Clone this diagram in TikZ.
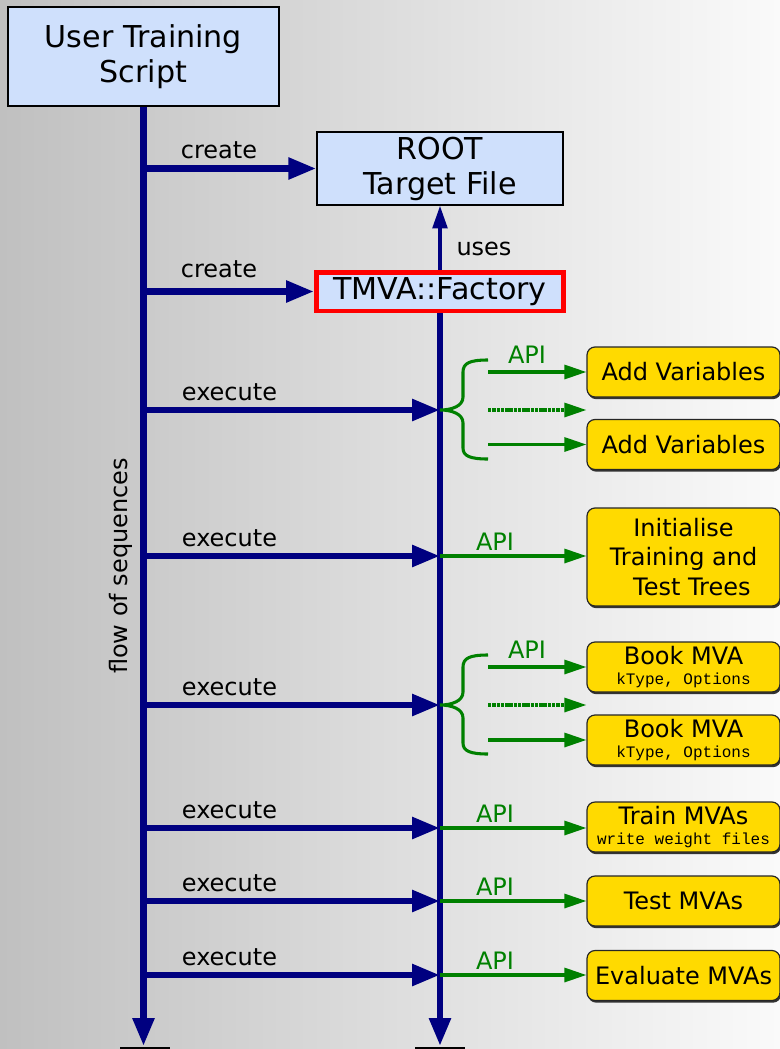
\documentclass[tikz,border=0pt]{standalone}
\usepackage{fontspec}
\setmainfont{DejaVu Sans}
\setmonofont{Liberation Mono}
\usetikzlibrary{arrows.meta,shadows}

\definecolor{seqnavy}{RGB}{0,0,128}
\definecolor{apigreen}{RGB}{0,128,0}
\definecolor{boxblue}{RGB}{207,224,252}
\definecolor{boxgold}{RGB}{255,218,0}
\definecolor{bgleft}{RGB}{192,192,192}
\definecolor{bgright}{RGB}{250,250,250}

\newcommand{\monotext}[1]{{\ttfamily\fontsize{12pt}{12pt}\selectfont #1}}

\tikzset{
  bluebox/.style={draw=black,line width=1.1pt,fill=boxblue,inner sep=0pt,align=center,
    font=\fontsize{22.6pt}{26.25pt}\selectfont},
  goldbox/.style={draw=black!85,line width=0.9pt,fill=boxgold,rounded corners=6pt,
    inner sep=0pt,align=center,minimum width=144.75pt,minimum height=37.5pt,
    font=\fontsize{18pt}{22.1pt}\selectfont,
    drop shadow={shadow xshift=0.8pt,shadow yshift=-1.6pt,fill=black!80,opacity=1}},
  flowarrow/.style={draw=seqnavy,line width=4.9pt,-{Triangle[length=21pt,width=15.5pt]}},
  usesarrow/.style={draw=seqnavy,line width=2.6pt,-{Triangle[length=17pt,width=11pt]}},
  apiarrow/.style={draw=apigreen,line width=2.3pt,-{Triangle[length=16.5pt,width=10.5pt]}},
  apidots/.style={apiarrow,dash pattern=on 2.6pt off 0.6pt},
  bracepath/.style={draw=apigreen,line width=2.3pt},
  verb/.style={anchor=base,inner sep=0pt,font=\fontsize{18pt}{20pt}\selectfont},
  apilabel/.style={verb,text=apigreen}
}

\begin{document}
\begin{tikzpicture}[x=0.75pt,y=-0.75pt]
  % page frame and grey gradient backdrop
  \useasboundingbox (0,0) rectangle (780,1049);
  \clip (0,0) rectangle (780,1049);
  \fill[left color=bgleft,right color=bgright] (0,0) rectangle (780,1049);

  % main boxes
  \node[bluebox,minimum width=203.25pt,minimum height=74.25pt] (uts) at (143.5,56.5)
    {User Training\\Script};
  \node[bluebox,minimum width=184.5pt,minimum height=54.75pt] (root) at (440,168.5)
    {ROOT\\Target File};
  \node[bluebox,draw=red,line width=3.4pt,minimum width=185.6pt,minimum height=28.9pt]
    (tmva) at (440,291.5) {TMVA::Factory};

  % action boxes
  \node[goldbox] (av1) at (683.5,372) {Add Variables};
  \node[goldbox] (av2) at (683.5,444.5) {Add Variables};
  \node[goldbox,minimum height=73.5pt] (init) at (683.5,557)
    {Initialise\\Training and\\\hspace*{0.7em}Test Trees};
  \node[goldbox] (bm1) at (683.5,667) {Book MVA\\[-7.2pt]\monotext{kType, Options}};
  \node[goldbox] (bm2) at (683.5,740) {Book MVA\\[-7.2pt]\monotext{kType, Options}};
  \node[goldbox] (train) at (683.5,827) {Train MVAs\\[-7.75pt]\monotext{write weight files}};
  \node[goldbox] (test) at (683.5,901) {Test MVAs};
  \node[goldbox] (eval) at (683.5,975.5) {Evaluate MVAs};

  % sequence lines
  \coordinate (lend) at (143.5,1046);
  \coordinate (rend) at (440,1046);
  \draw[flowarrow] (uts.south) -- (lend);
  \draw[flowarrow] (tmva.south) -- (rend);
  \fill[black] (120,1046.5) rectangle (170,1052);
  \fill[black] (415,1046.5) rectangle (465,1052);
  \node[verb,anchor=center,rotate=90] (flow) at (121,566) {flow of sequences};

  % creation and use
  \draw[flowarrow] (uts.south |- root.west) -- (root.west);
  \draw[flowarrow] (uts.south |- tmva.west) -- (tmva.west);
  \node[verb] (create1) at (219,158) {create};
  \node[verb] (create2) at (219,277.5) {create};
  \draw[usesarrow] (tmva.north) -- (root.south);
  \node[verb] (uses) at (484,255) {uses};

  % execute calls
  \foreach \y [count=\i] in {410,556,705,828,901,975} {
    \coordinate (xs\i) at (143.5,\y);
    \coordinate (xe\i) at (440,\y);
    \draw[flowarrow] (xs\i) -- (xe\i);
    \node[verb] (exec\i) at (229.5,\y-10) {execute};
  }

  % single API calls
  \draw[apiarrow] (xe2) -- (xe2 -| init.west);
  \draw[apiarrow] (xe4) -- (xe4 -| train.west);
  \draw[apiarrow] (xe5) -- (xe5 -| test.west);
  \draw[apiarrow] (xe6) -- (xe6 -| eval.west);
  \node[apilabel] (api2) at (495,550) {API};
  \node[apilabel] (api4) at (495,822) {API};
  \node[apilabel] (api5) at (495,895) {API};
  \node[apilabel] (api6) at (495,969) {API};

  % grouped API calls with braces
  \foreach \t/\g in {410/1,705/2} {
    \draw[bracepath] (488,\t-50) .. controls (470,\t-50) and (463,\t-47) .. (463,\t-38)
      -- (463,\t-13) .. controls (463,\t-4) and (452,\t) .. (440,\t)
      .. controls (452,\t) and (463,\t+4) .. (463,\t+13)
      -- (463,\t+38) .. controls (463,\t+46) and (470,\t+49) .. (488,\t+49);
    \coordinate (g\g) at (488,\t);
  }
  \draw[apiarrow] (g1 |- av1.west) -- (av1.west);
  \draw[apidots] (g1) -- (g1 -| av1.west);
  \draw[apiarrow] (g1 |- av2.west) -- (av2.west);
  \node[apilabel] (api1) at (527,363) {API};

  \draw[apiarrow] (g2 |- bm1.west) -- (bm1.west);
  \draw[apidots] (g2) -- (g2 -| bm1.west);
  \draw[apiarrow] (g2 |- bm2.west) -- (bm2.west);
  \node[apilabel] (api3) at (527,658) {API};
\end{tikzpicture}
\end{document}
